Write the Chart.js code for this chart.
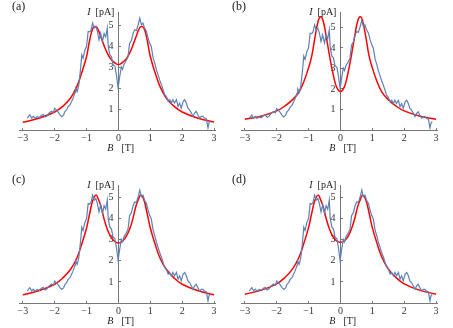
<!DOCTYPE html>
<html>
<head>
<meta charset="utf-8">
<script src="https://cdn.jsdelivr.net/npm/chart.js@4/dist/chart.umd.min.js"></script>
<style>
  body { margin: 0; background: #fff; width: 453px; height: 328px; overflow: hidden; position: relative; }
  .panel { position: absolute; width: 226px; height: 155px; }
</style>
</head>
<body>
<div class="panel" style="left:0px;top:0px"><canvas id="pa"></canvas></div>
<div class="panel" style="left:222px;top:0px"><canvas id="pb"></canvas></div>
<div class="panel" style="left:0px;top:173px"><canvas id="pc"></canvas></div>
<div class="panel" style="left:222px;top:173px"><canvas id="pd"></canvas></div>
<script>
// measured current (same data in all four panels)
const fieldB = [-2.86, -2.78, -2.72, -2.67, -2.62, -2.55, -2.48, -2.42, -2.36, -2.30, -2.25, -2.18, -2.10, -2.04, -2.00,
    -1.94, -1.89, -1.84, -1.78, -1.72, -1.68, -1.62, -1.58, -1.52, -1.47, -1.43, -1.40, -1.36, -1.34, -1.29, -1.25,
    -1.23, -1.19, -1.15, -1.11, -1.05, -1.00, -0.95, -0.90, -0.86, -0.81, -0.76, -0.71, -0.66, -0.61, -0.56, -0.50,
    -0.45, -0.40, -0.35, -0.32, -0.27, -0.22, -0.17, -0.11, -0.06, -0.01, 0.04, 0.09, 0.13, 0.17, 0.23, 0.30, 0.35,
    0.41, 0.46, 0.51, 0.56, 0.62, 0.67, 0.72, 0.77, 0.82, 0.88, 0.93, 0.98, 1.03, 1.09, 1.14, 1.19, 1.24, 1.29, 1.35,
    1.40, 1.45, 1.50, 1.56, 1.61, 1.66, 1.71, 1.76, 1.82, 1.87, 1.92, 1.97, 2.03, 2.08, 2.13, 2.18, 2.23, 2.29, 2.34,
    2.39, 2.44, 2.49, 2.55, 2.60, 2.65, 2.70, 2.76, 2.81, 2.84, 2.88];
const currentI = [0.57, 0.73, 0.57, 0.66, 0.56, 0.64, 0.60, 0.70, 0.74, 0.62, 0.66, 0.80, 0.90, 0.84, 1.04,
    0.95, 0.86, 0.74, 0.64, 0.72, 0.88, 0.98, 1.12, 1.20, 1.36, 1.50, 1.62, 1.80, 2.00, 1.85, 2.10,
    2.33, 2.90, 3.60, 3.44, 3.84, 4.00, 4.72, 4.70, 4.78, 5.12, 4.88, 4.96, 4.72, 4.32, 4.64, 4.24,
    4.62, 4.45, 4.88, 4.00, 3.60, 3.52, 3.13, 3.05, 2.60, 2.02, 2.55, 3.02, 2.90, 3.13, 3.28, 3.50, 4.14,
    4.30, 4.62, 4.80, 4.76, 5.04, 5.36, 5.04, 5.12, 4.88, 4.72, 4.40, 4.16, 4.00, 3.44, 3.20, 2.89, 2.65, 2.41, 2.17,
    1.93, 1.69, 1.61, 1.37, 1.45, 1.29, 1.45, 1.29, 1.45, 1.13, 1.29, 1.05, 1.37, 1.45, 1.29, 1.05, 0.97, 0.81, 0.65,
    0.81, 0.89, 0.73, 0.57, 0.65, 0.65, 0.57, 0.53, 0.10, 0.33, 0.41];

// fitted curves
const fitB = [-3, -2.5, -2, -1.75, -1.5, -1.3, -1.15, -1.0, -0.9, -0.8, -0.7, -0.63, -0.55, -0.45, -0.35, -0.25, -0.15, -0.07,
    0, 0.07, 0.15, 0.25, 0.35, 0.45, 0.55, 0.63, 0.7, 0.8, 0.9, 1.0, 1.15, 1.3, 1.5, 1.75, 2, 2.5, 3];
const fitA = [0.37, 0.56, 0.86, 1.13, 1.53, 2.10, 2.75, 3.52, 4.32, 4.88, 4.95, 4.78, 4.45, 4.04, 3.68, 3.42, 3.26, 3.17,
    3.14, 3.17, 3.26, 3.42, 3.68, 4.04, 4.45, 4.78, 4.95, 4.88, 4.32, 3.52, 2.75, 2.10, 1.53, 1.13, 0.86, 0.56, 0.38];
const fitBb = [0.52, 0.67, 0.93, 1.16, 1.48, 1.85, 2.35, 3.03, 3.60, 4.50, 5.30, 5.52, 5.36, 4.59, 3.69, 2.87, 2.21, 1.95,
    1.87, 1.95, 2.21, 2.87, 3.69, 4.59, 5.36, 5.52, 5.30, 4.50, 3.60, 3.03, 2.35, 1.85, 1.48, 1.16, 0.93, 0.67, 0.52];
const fitC = [0.39, 0.58, 0.89, 1.18, 1.60, 2.15, 2.80, 3.56, 4.26, 4.89, 5.12, 4.92, 4.60, 3.98, 3.50, 3.17, 2.97, 2.88,
    2.85, 2.88, 2.97, 3.17, 3.50, 3.98, 4.60, 4.92, 5.12, 4.89, 4.26, 3.56, 2.80, 2.15, 1.60, 1.18, 0.89, 0.58, 0.39];
const fitD = [0.42, 0.60, 0.91, 1.20, 1.62, 2.17, 2.82, 3.58, 4.27, 4.88, 5.12, 4.93, 4.62, 4.02, 3.53, 3.19, 2.99, 2.90,
    2.88, 2.90, 2.99, 3.19, 3.53, 4.02, 4.62, 4.93, 5.12, 4.88, 4.27, 3.58, 2.82, 2.17, 1.62, 1.20, 0.91, 0.60, 0.42];

const xTicks = [-3, -2, -1, 0, 1, 2, 3];
const yTicks = [1, 2, 3, 4, 5];

const serif = '"Liberation Serif", "DejaVu Serif", serif';
const toXY = (xs, ys) => xs.map((x, i) => ({ x: x, y: ys[i] }));

// panel letter and axis names
const labelPlugin = {
    id: 'labels',
    afterDraw(chart, args, opts) {
        const ctx = chart.ctx;
        const x0 = chart.scales.x.getPixelForValue(0);
        const y0 = chart.scales.y.getPixelForValue(0);
        const top = chart.chartArea.top;
        ctx.save();
        ctx.fillStyle = '#222';
        ctx.textBaseline = 'middle';
        ctx.font = '12px ' + serif;
        ctx.textAlign = 'left';
        ctx.fillText(opts.letter, opts.letterX, 7);

        ctx.font = '10px ' + serif;
        ctx.textAlign = 'right';
        ctx.fillText('[pA]', x0 - 4, top);
        const w = ctx.measureText('[pA]').width;
        ctx.font = 'italic 10px ' + serif;
        ctx.fillText('I', x0 - 4 - w - 5, top);

        ctx.textAlign = 'right';
        ctx.fillText('B', x0 - 5, y0 + 18);
        ctx.font = '10px ' + serif;
        ctx.textAlign = 'left';
        ctx.fillText('[T]', x0 + 3, y0 + 18);
        ctx.restore();
    }
};

const makePanel = (id, fit, letter, letterX, yMax) => {
    const ctx = document.getElementById(id).getContext('2d');
    new Chart(ctx, {
        type: 'line',
        data: {
            datasets: [{
                data: toXY(fieldB, currentI),
                borderColor: '#5e81b5',
                borderWidth: 1.2,
                pointRadius: 0,
                tension: 0
            }, {
                data: toXY(fitB, fit),
                borderColor: '#ff0000',
                borderWidth: 1.5,
                pointRadius: 0,
                tension: 0.4
            }]
        },
        options: {
            responsive: true,
            maintainAspectRatio: false,
            animation: false,
            events: [],
            layout: { padding: { left: 19, right: 11, top: 12, bottom: 25 } },
            plugins: {
                legend: { display: false },
                tooltip: { enabled: false },
                labels: { letter: letter, letterX: letterX }
            },
            scales: {
                x: {
                    type: 'linear',
                    position: { y: 0 },
                    min: -3.12,
                    max: 3.03,
                    afterBuildTicks: (axis) => { axis.ticks = xTicks.map(v => ({ value: v })); },
                    ticks: {
                        color: '#333',
                        font: { family: serif, size: 10 },
                        padding: 5,
                        maxRotation: 0,
                        callback: (v) => String(v).replace('-', '\u2212')
                    },
                    grid: { drawOnChartArea: false, tickLength: -3, color: '#777' },
                    border: { color: '#777', width: 1 }
                },
                y: {
                    type: 'linear',
                    position: { x: 0 },
                    min: 0,
                    max: yMax,
                    afterBuildTicks: (axis) => { axis.ticks = yTicks.map(v => ({ value: v })); },
                    ticks: {
                        color: '#333',
                        font: { family: serif, size: 10 },
                        // labels sit flush on a value-positioned axis, so pad them with spaces
                        callback: (v) => v + '  '
                    },
                    grid: { drawOnChartArea: false, tickLength: -3, color: '#777' },
                    border: { color: '#777', width: 1 }
                }
            }
        },
        plugins: [labelPlugin]
    });
};

makePanel('pa', fitA, '(a)', 12, 5.65);
makePanel('pb', fitBb, '(b)', 10, 5.75);
makePanel('pc', fitC, '(c)', 12, 5.6);
makePanel('pd', fitD, '(d)', 10, 5.6);
</script>
</body>
</html>
